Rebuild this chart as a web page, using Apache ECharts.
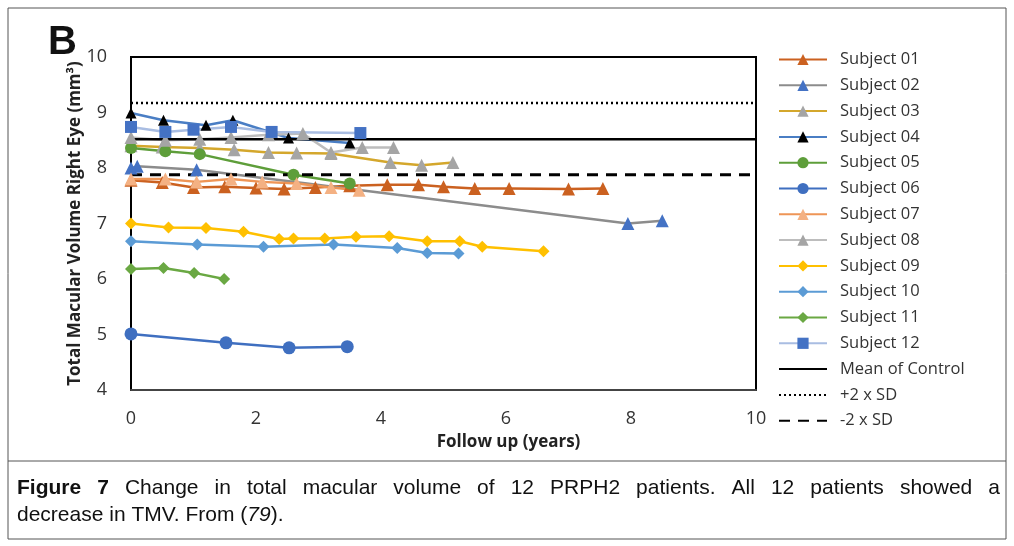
<!DOCTYPE html>
<html>
<head>
<meta charset="utf-8">
<title>Figure 7 - Total macular volume</title>
<script src="https://cdn.jsdelivr.net/npm/echarts@6/dist/echarts.min.js"></script>
<style>
  html, body { margin: 0; padding: 0; background: #fff; }
  #chart { width: 1014px; height: 546px; }
</style>
</head>
<body>
<div id="chart"></div>
<script>
// follow up (years), volume (mm3)
const subject01 = [[0, 7.78], [0.5, 7.74], [1.0, 7.65], [1.5, 7.66], [2.0, 7.64], [2.45, 7.62], [2.95, 7.65], [3.5, 7.68], [4.1, 7.70], [4.6, 7.70], [5.0, 7.66], [5.5, 7.63], [6.05, 7.63], [7.0, 7.62], [7.55, 7.63]]
const subject02 = [[0, 8.0], [0.1, 8.03], [1.05, 7.97], [7.95, 7.0], [8.5, 7.05]]
const subject03 = [[0, 8.4], [0.5, 8.38], [1.1, 8.36], [1.65, 8.33], [2.2, 8.28], [2.65, 8.27], [3.2, 8.26], [4.15, 8.1], [4.65, 8.05], [5.15, 8.1]]
const subject04 = [[0, 8.99], [0.52, 8.86], [1.2, 8.77], [1.63, 8.86], [2.52, 8.54], [3.5, 8.45]]
const subject05 = [[0, 8.36], [0.55, 8.3], [1.1, 8.25], [2.6, 7.88], [3.5, 7.72]]
const subject06 = [[0, 5.01], [1.52, 4.85], [2.53, 4.76], [3.46, 4.78]]
const subject07 = [[0, 7.8], [0.55, 7.8], [1.05, 7.75], [1.6, 7.8], [2.1, 7.75], [2.65, 7.72], [3.2, 7.65], [3.65, 7.6]]
const subject08 = [[0, 8.55], [0.55, 8.5], [1.1, 8.52], [1.6, 8.55], [2.2, 8.6], [2.75, 8.62], [3.2, 8.28], [3.7, 8.37], [4.2, 8.37]]
const subject09 = [[0, 7.0], [0.6, 6.93], [1.2, 6.92], [1.8, 6.85], [2.37, 6.72], [2.6, 6.73], [3.1, 6.73], [3.6, 6.76], [4.13, 6.77], [4.74, 6.68], [5.26, 6.68], [5.62, 6.58], [6.6, 6.5]]
const subject10 = [[0, 6.68], [1.06, 6.62], [2.12, 6.58], [3.24, 6.62], [4.26, 6.56], [4.74, 6.47], [5.24, 6.46]]
const subject11 = [[0, 6.18], [0.52, 6.2], [1.01, 6.11], [1.49, 6.0]]
const subject12 = [[0, 8.74], [0.55, 8.65], [1.0, 8.69], [1.6, 8.74], [2.25, 8.65], [3.67, 8.63]]

const controlMean = [[0, 8.52], [10, 8.52]]
const controlPlus2SD = [[0, 9.17], [10, 9.17]]
const controlMinus2SD = [[0, 7.88], [10, 7.88]]

const xTicks = [0, 2, 4, 6, 8, 10]
const yTicks = [4, 5, 6, 7, 8, 9, 10]

const chart = echarts.init(document.getElementById('chart'))

const subj = (name, data, line, marker, symbol, size) => ({
    name: name,
    type: 'line',
    data: data,
    symbol: symbol,
    symbolSize: size,
    lineStyle: { color: line, width: 2.5 },
    itemStyle: { color: marker },
    emphasis: { disabled: true },
    animation: false
})

// reference lines: transparent item colour so the legend shows no marker
const refLine = (name, data, type, width) => ({
    name: name,
    type: 'line',
    data: data,
    symbol: 'none',
    lineStyle: { color: '#000', width: width, type: type },
    itemStyle: { color: 'rgba(0,0,0,0)', borderWidth: 0 },
    emphasis: { disabled: true },
    animation: false
})

const font = '"Open Sans", "DejaVu Sans", sans-serif'
const capFont = '"Liberation Sans", Arial, sans-serif'

// caption, first line justified like the source
const captionLine1 = [['Figure', 'bold'], ['7', 'bold'], ['Change'], ['in'], ['total'], ['macular'], ['volume'], ['of'], ['12'], ['PRPH2'],
    ['patients.'], ['All'], ['12'], ['patients'], ['showed'], ['a']]
const ctx = document.createElement('canvas').getContext('2d')
const capSize = 21
const widths = captionLine1.map(w => {
    ctx.font = (w[1] || 'normal') + ' ' + capSize + 'px ' + capFont
    return ctx.measureText(w[0]).width
})
const capLeft = 17, capRight = 1000
const gap = (capRight - capLeft - widths.reduce((a, b) => a + b, 0)) / (captionLine1.length - 1)
const captionWords = []
let cx = capLeft
captionLine1.forEach((w, i) => {
    captionWords.push({
        type: 'text', x: cx, y: 478,
        style: { text: w[0], font: (w[1] || 'normal') + ' ' + capSize + 'px ' + capFont, fill: '#111' },
        silent: true
    })
    cx += widths[i] + gap
})

chart.setOption({
    animation: false,
    grid: { left: 131, right: 258, top: 57, bottom: 156, show: true, borderColor: '#000', borderWidth: 2 },
    xAxis: {
        type: 'value',
        min: xTicks[0],
        max: xTicks[xTicks.length - 1],
        interval: 2,
        name: 'Follow up (years)',
        nameLocation: 'middle',
        nameMoveOverlap: false,
        nameGap: 44,
        nameTextStyle: { fontFamily: font, fontWeight: 'bold', fontSize: 17, color: '#222', padding: [0, 0, 0, 130] },
        axisLine: { lineStyle: { color: '#444', width: 2 } },
        axisTick: { show: false },
        splitLine: { show: false },
        axisLabel: { fontFamily: font, fontSize: 18, color: '#333', margin: 20 }
    },
    yAxis: {
        type: 'value',
        min: yTicks[0],
        max: yTicks[yTicks.length - 1],
        interval: 1,
        name: 'Total Macular Volume Right Eye (mm³)',
        nameLocation: 'middle',
        nameMoveOverlap: false,
        nameGap: 47,
        nameTextStyle: { fontFamily: font, fontWeight: 'bold', fontSize: 17, color: '#222' },
        axisLine: { show: true, lineStyle: { color: '#000', width: 2 } },
        axisTick: { show: false },
        splitLine: { show: false },
        axisLabel: { fontFamily: font, fontSize: 18, color: '#333', margin: 24 }
    },
    legend: {
        orient: 'vertical',
        left: 778,
        top: 51,
        padding: 0,
        itemWidth: 48,
        itemHeight: 14,
        itemGap: 8.8,
        textStyle: { fontFamily: font, fontSize: 16.5, lineHeight: 17, color: '#333', padding: [0, 0, 0, 8] },
        data: ['Subject 01', 'Subject 02', 'Subject 03', 'Subject 04', 'Subject 05', 'Subject 06',
            'Subject 07', 'Subject 08', 'Subject 09', 'Subject 10', 'Subject 11', 'Subject 12',
            'Mean of Control', '+2 x SD', '-2 x SD']
    },
    graphic: [
        { type: 'rect', shape: { x: 8, y: 8, width: 998, height: 531 }, style: { fill: 'none', stroke: '#555', lineWidth: 1 }, silent: true },
        { type: 'line', shape: { x1: 8, y1: 461, x2: 1006, y2: 461 }, style: { stroke: '#555', lineWidth: 1 }, silent: true },
        { type: 'text', left: 48, top: 23, style: { text: 'B', font: 'bold 40px ' + capFont, fill: '#111' } },
        ...captionWords,
        {
            type: 'text', left: 17, top: 505,
            style: {
                text: 'decrease in TMV. From ({i|79}).',
                font: capSize + 'px ' + capFont,
                fill: '#111',
                rich: {
                    i: { fontStyle: 'italic', fontSize: capSize, fontFamily: capFont, fill: '#111' }
                }
            }
        }
    ],
    series: [
        subj('Subject 01', subject01, '#CB6120', '#CB6120', 'triangle', 13),
        subj('Subject 02', subject02, '#8C8C8C', '#4472C4', 'triangle', 13),
        subj('Subject 03', subject03, '#D4A72C', '#A5A5A5', 'triangle', 13),
        subj('Subject 04', subject04, '#4A7EC4', '#000000', 'triangle', 11),
        subj('Subject 05', subject05, '#5E9E3A', '#5E9E3A', 'circle', 12),
        subj('Subject 06', subject06, '#3F6FC0', '#3F6FC0', 'circle', 13),
        subj('Subject 07', subject07, '#EE9556', '#F4B183', 'triangle', 13),
        subj('Subject 08', subject08, '#BDBDBD', '#A5A5A5', 'triangle', 13),
        subj('Subject 09', subject09, '#FFC000', '#FFC000', 'diamond', 12),
        subj('Subject 10', subject10, '#5B9BD5', '#5B9BD5', 'diamond', 12),
        subj('Subject 11', subject11, '#6AA843', '#6AA843', 'diamond', 12),
        subj('Subject 12', subject12, '#A9BDE2', '#4472C4', 'rect', 12),
        refLine('Mean of Control', controlMean, 'solid', 2.5),
        refLine('+2 x SD', controlPlus2SD, [2, 3], 2.5),
        refLine('-2 x SD', controlMinus2SD, [11, 8], 3)
    ]
})
</script>
</body>
</html>
